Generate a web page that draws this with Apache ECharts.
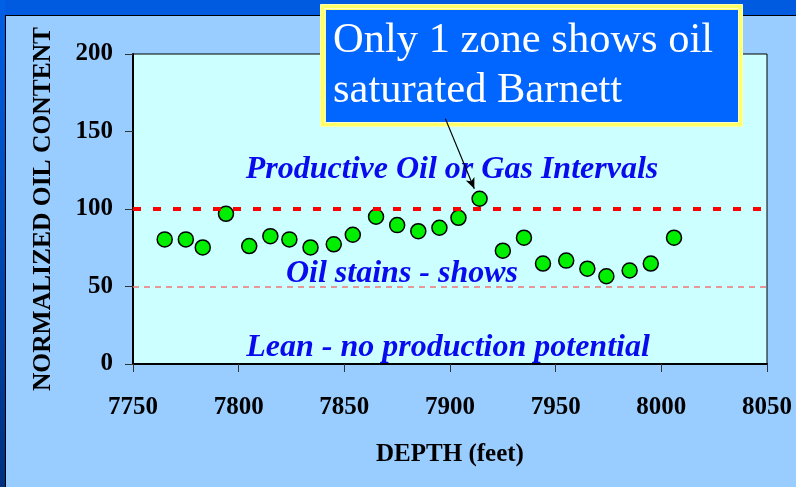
<!DOCTYPE html>
<html>
<head>
<meta charset="utf-8">
<script src="https://cdn.jsdelivr.net/npm/echarts@6/dist/echarts.min.js"></script>
<style>html,body{margin:0;padding:0;background:#99CCFF;}#c{width:796px;height:487px;}</style>
</head>
<body>
<div id="c"></div>
<script>
// Data
var depths = [7765, 7775, 7783, 7794, 7805, 7815, 7824, 7834, 7845, 7854, 7865, 7875, 7885, 7895, 7904, 7914, 7925, 7935, 7944, 7955, 7965, 7974, 7985, 7995, 8006];
var oilContent = [80.4, 80.4, 75.2, 96.9, 76.1, 82.5, 80.4, 75.2, 77.2, 83.4, 95.0, 89.6, 85.7, 87.9, 94.3, 106.6, 73.1, 81.5, 64.8, 66.7, 61.5, 56.6, 60.3, 64.8, 81.5];
var xTicks = [7750, 7800, 7850, 7900, 7950, 8000, 8050];
var yTicks = [0, 50, 100, 150, 200];
var productiveLevel = 100;
var showsLevel = 50;
var zoneLabels = ['Productive Oil or Gas Intervals', 'Oil stains - shows', 'Lean - no production potential'];
var calloutLines = ['Only 1 zone shows oil', 'saturated Barnett'];
var arrowFrom = [7897.8, 158.3];
var arrowTo = [7911.5, 113];

var points = depths.map(function (d, i) { return [d, oilContent[i]]; });
var serif = '"Liberation Serif", "Times New Roman", serif';

var chart = echarts.init(document.getElementById('c'), null, {renderer: 'canvas'});
chart.setOption({
  animation: false,
  backgroundColor: '#99CCFF',
  grid: {left: 133, top: 54, right: 29, bottom: 123, show: true, backgroundColor: '#CCFFFF', borderColor: '#000', borderWidth: 1},
  xAxis: {
    type: 'value', min: xTicks[0], max: xTicks[xTicks.length - 1], interval: 50,
    name: 'DEPTH (feet)', nameLocation: 'middle', nameGap: 78,
    nameTextStyle: {fontFamily: serif, fontWeight: 'bold', fontSize: 25, color: '#000'},
    axisLine: {show: true, onZero: false, lineStyle: {color: '#000', width: 2}},
    axisTick: {show: true, length: 8, lineStyle: {color: '#333', width: 1}},
    axisLabel: {margin: 31, fontFamily: serif, fontWeight: 'bold', fontSize: 25, color: '#000',
      formatter: function (v) { return String(v); }},
    splitLine: {show: false}
  },
  yAxis: {
    type: 'value', min: yTicks[0], max: yTicks[yTicks.length - 1], interval: 50,
    name: 'NORMALIZED OIL CONTENT', nameLocation: 'middle', nameGap: 77,
    nameTextStyle: {fontFamily: serif, fontWeight: 'bold', fontSize: 25.5, color: '#000'},
    axisLine: {show: true, lineStyle: {color: '#000', width: 2}},
    axisTick: {show: true, length: 8, lineStyle: {color: '#333', width: 1}},
    axisLabel: {margin: 20, fontFamily: serif, fontWeight: 'bold', fontSize: 25, color: '#000'},
    splitLine: {show: false}
  },
  graphic: [
    {type: 'rect', z: 0, shape: {x: 0, y: 0, width: 796, height: 15}, style: {fill: '#005BE0'}},
    {type: 'rect', z: 0, shape: {x: 0, y: 0, width: 5, height: 487}, style: {fill: new echarts.graphic.LinearGradient(0, 0, 0, 1, [{offset: 0, color: '#0060E8'}, {offset: 1, color: '#003080'}])}},
    {type: 'line', z: 0, shape: {x1: 5, y1: 15.5, x2: 796, y2: 15.5}, style: {stroke: '#000', lineWidth: 1}},
    {type: 'line', z: 0, shape: {x1: 5.5, y1: 15, x2: 5.5, y2: 487}, style: {stroke: '#000', lineWidth: 1}},
    {type: 'text', z: 5, style: {text: zoneLabels[0], x: 452, y: 170, textAlign: 'center', textVerticalAlign: 'middle', font: 'italic bold 32px ' + serif, fill: '#0A0AEE'}},
    {type: 'text', z: 5, style: {text: zoneLabels[1], x: 402, y: 274, textAlign: 'center', textVerticalAlign: 'middle', font: 'italic bold 32px ' + serif, fill: '#0A0AEE'}},
    {type: 'text', z: 5, style: {text: zoneLabels[2], x: 448, y: 348, textAlign: 'center', textVerticalAlign: 'middle', font: 'italic bold 32px ' + serif, fill: '#0A0AEE'}},
    {type: 'rect', z: 6, shape: {x: 320.5, y: 4.5, width: 422, height: 122}, style: {fill: '#FFFF66', stroke: '#FFFFB0', lineWidth: 1}},
    {type: 'rect', z: 6, shape: {x: 324.5, y: 8.5, width: 414, height: 114}, style: {fill: 'none', stroke: '#FFFFCC', lineWidth: 1}},
    {type: 'rect', z: 6, shape: {x: 326, y: 10, width: 412, height: 112}, style: {fill: '#0066FF'}},
    {type: 'text', z: 7, style: {text: calloutLines[0], x: 333, y: 41, textVerticalAlign: 'middle', font: '42.5px ' + serif, fill: '#FFFFFF'}},
    {type: 'text', z: 7, style: {text: calloutLines[1], x: 333, y: 91, textVerticalAlign: 'middle', font: '42.5px ' + serif, fill: '#FFFFFF'}}
  ],
  series: [{
    type: 'scatter',
    z: 3,
    data: points,
    symbol: 'circle',
    symbolSize: 15,
    itemStyle: {color: '#00EE00', borderColor: '#000', borderWidth: 1.5, opacity: 1},
    markLine: {
      silent: true,
      symbol: ['none', 'none'],
      label: {show: false},
      data: [
        {yAxis: productiveLevel, lineStyle: {color: '#FF0000', width: 4, type: [8, 12]}},
        {yAxis: showsLevel, lineStyle: {color: '#EE7777', width: 1.5, type: [6, 5]}}
      ]
    }
  }, {
    type: 'scatter',
    z: 20,
    data: [],
    markLine: {
      silent: true,
      z: 20,
      symbol: ['none', 'arrow'],
      symbolSize: [7, 11],
      label: {show: false},
      lineStyle: {color: '#000', width: 1.2, type: 'solid'},
      data: [[{coord: arrowFrom}, {coord: arrowTo}]]
    }
  }]
});
</script>
</body>
</html>
